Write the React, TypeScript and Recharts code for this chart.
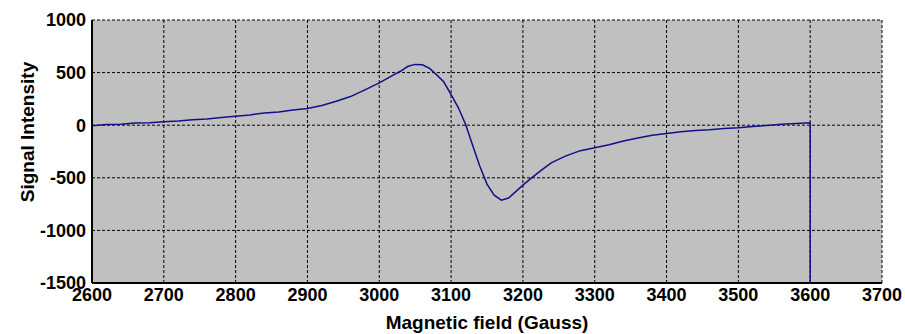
import React from 'react'
import { LineChart, Line, XAxis, YAxis, CartesianGrid, Label } from 'recharts'

// magnetic field (Gauss) and signal
const fields = [
  2600, 2620, 2640, 2660, 2680, 2700, 2720, 2740, 2760, 2780,
  2800, 2820, 2840, 2860, 2880, 2900, 2920, 2940, 2960, 2980,
  3000, 3010, 3020, 3030, 3040, 3050, 3060, 3070, 3080, 3090,
  3100, 3110, 3120, 3130, 3140, 3150, 3160, 3170, 3180, 3190,
  3200, 3210, 3220, 3230, 3240, 3260, 3280, 3300, 3320, 3340,
  3360, 3380, 3400, 3420, 3440, 3460, 3480, 3500, 3520, 3540,
  3560, 3580, 3600, 3600,
]
const signal = [
  -5, 6, 10, 20, 24, 33, 40, 52, 60, 74,
  86, 98, 116, 126, 144, 158, 188, 228, 272, 336,
  402, 440, 478, 515, 560, 578, 575, 540, 478, 410,
  290, 168, 12, -190, -390, -560, -665, -712, -692, -632,
  -570, -512, -458, -405, -356, -292, -242, -214, -186, -150,
  -122, -96, -78, -62, -50, -44, -32, -24, -12, -2,
  8, 16, 24, -1500,
]

const xTicks = [2600, 2700, 2800, 2900, 3000, 3100, 3200, 3300, 3400, 3500, 3600, 3700]
const yTicks = [-1500, -1000, -500, 0, 500, 1000]

const data = fields.map((f, i) => ({ field: f, signal: signal[i] }))

const font = '"Liberation Sans", Arial, sans-serif'
const tickStyle = { fill: '#000', fontSize: 18, fontWeight: 'bold', fontFamily: font }
const titleStyle = { fill: '#000', fontSize: 19, fontWeight: 'bold', fontFamily: font }

export default function App() {
  return (
    <div style={{ position: 'absolute', left: 0, top: 0, background: '#fff' }}>
      <LineChart width={905} height={334} data={data} margin={{ top: 20, right: 23, bottom: 0, left: 0 }}>
        <CartesianGrid fill="#c0c0c0" stroke="#000" strokeDasharray="3 2" strokeWidth={1} />
        <XAxis
          dataKey="field"
          type="number"
          domain={[2600, 3700]}
          ticks={xTicks}
          height={51}
          axisLine={{ stroke: '#000', strokeWidth: 2 }}
          tickLine={false}
          tickSize={0}
          tickMargin={5}
          tick={tickStyle}
          interval={0}
        >
          <Label value="Magnetic field (Gauss)" position="insideBottom" offset={5} style={titleStyle} />
        </XAxis>
        <YAxis
          type="number"
          domain={[-1500, 1000]}
          ticks={yTicks}
          width={92}
          axisLine={{ stroke: '#000', strokeWidth: 2 }}
          tickLine={false}
          tickSize={0}
          tickMargin={6}
          tick={tickStyle}
          interval={0}
        >
          <Label
            content={() => (
              <text x={34} y={132} transform="rotate(-90 34 132)" textAnchor="middle" style={titleStyle}>
                Signal Intensity
              </text>
            )}
          />
        </YAxis>
        <Line
          type="linear"
          dataKey="signal"
          stroke="#10108a"
          strokeWidth={1.5}
          dot={false}
          isAnimationActive={false}
        />
      </LineChart>
    </div>
  )
}
